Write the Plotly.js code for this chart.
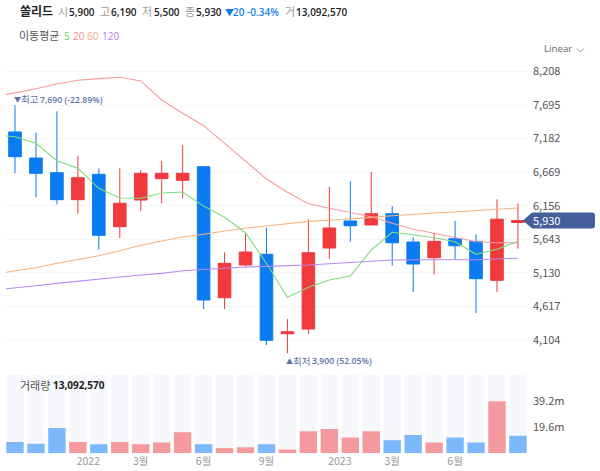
<!DOCTYPE html>
<html><head><meta charset="utf-8">
<script src="https://cdn.plot.ly/plotly-3.0.1.min.js"></script>
<style>html,body{margin:0;padding:0;background:#fff}#c{width:600px;height:471px}</style></head>
<body><div id="c"></div>
<script>
const idx=[0,1,2,3,4,5,6,7,8,9,10,11,12,13,14,15,16,17,18,19,20,21,22,23,24];
const open_=[7283,6885,6660,6248,6636,5835,6243,6569,6544,6752,4749,5249,5413,4199,4271,5509,5922,5861,6034,5601,5361,5651,5611,5015,5900];
const high=[7690,7272,7599,6920,6728,6728,6702,6839,7079,6752,5443,5734,5820,4423,5948,6446,6533,6671,6151,5673,5743,5922,5718,6254,6190];
const low=[6651,6284,6177,6033,5483,5662,6075,6193,6269,4576,4576,5223,4026,3900,4194,5345,5605,5861,5239,4836,5101,5336,4515,4836,5500];
const close_=[6905,6651,6248,6584,5703,6193,6651,6651,6651,4714,5275,5448,4098,4229,5437,5815,5850,6034,5590,5264,5611,5544,5040,5950,5930];
const maIdx=[-1,0,1,2,3,4,5,6,7,8,9,10,11,12,13,14,15,16,17,18,19,20,21,22,23,24];
const ma5=[7237,7211,7110,6844,6728,6422,6274,6269,6350,6365,6151,5979,5743,5275,4755,4908,5020,5081,5479,5749,5712,5667,5605,5413,5489,5611];
const ma20=[7818,7879,7945,8017,8073,8098,8119,8063,7772,7569,7379,7110,6839,6564,6361,6186,6116,6055,5988,5887,5795,5734,5667,5605,5590,5590];
const ma60=[5112,5157,5208,5275,5336,5391,5468,5550,5616,5677,5719,5765,5815,5845,5876,5917,5933,5952,5978,6003,6029,6044,6060,6075,6101,6121];
const ma120=[4867,4897,4933,4969,5005,5031,5066,5096,5122,5162,5183,5199,5219,5229,5234,5249,5269,5290,5315,5326,5330,5326,5330,5330,5337,5352];
const volume=[8.4,7.2,18.8,8.4,6.7,8.4,6.7,8,15.6,6.7,3.9,4.5,6.7,2.8,16.4,18.1,11.7,16.4,9.7,13.6,8,11.7,8,38.7,13.09];
const volumeUp=[0,0,0,1,0,1,1,1,1,0,1,1,0,1,1,1,1,1,0,0,1,0,0,1,0];
const volumeBand=idx.map(()=>58.3);
const priceTicks=[8208,7695,7182,6669,6156,5643,5130,4617,4104];
const volTicks=[19.6,39.2];
const volTickLabels=['19.6m','39.2m'];
const xTicks=[3.5,6,9,12,15.5,18,21];
const xTickLabels=['2022','3월','6월','9월','2023','3월','6월'];

const BLUE='#0a7bf0',RED='#f03a3e',KR='"Open Sans","Noto Sans CJK KR",sans-serif',CJK='"Noto Sans CJK KR","Noto Sans",sans-serif';
const ln=(y,c)=>({type:'scatter',mode:'lines',x:maIdx,y:y,xaxis:'x',yaxis:'y',line:{color:c,width:1.1},hoverinfo:'skip'});
const traces=[
 {type:'bar',x:idx,y:volumeBand,yaxis:'y2',xaxis:'x',width:0.81,marker:{color:'#f6f7fb',line:{width:0}},hoverinfo:'skip'},
 {type:'bar',x:idx,y:volume,yaxis:'y2',xaxis:'x',width:0.83,marker:{color:volumeUp.map(u=>u?'#f4999d':'#7db8fa'),line:{width:0}},hoverinfo:'skip'},
 {type:'candlestick',x:idx,open:open_,high:high,low:low,close:close_,xaxis:'x',yaxis:'y',whiskerwidth:0,
  increasing:{line:{color:RED,width:1},fillcolor:RED},decreasing:{line:{color:BLUE,width:1},fillcolor:BLUE},hoverinfo:'skip'},
 ln(ma120,'#b98af5'),ln(ma60,'#f8b27c'),ln(ma20,'#f79a9c'),ln(ma5,'#7fdc7f')
];
const note=(t,px,py,o={})=>({text:t,xref:'paper',yref:'paper',x:px/600,y:1-py/471,xanchor:o.anchor||'left',yanchor:'middle',showarrow:false,
  font:{family:o.family||KR,size:o.size||11,color:o.color||'#222',weight:o.weight||400},borderpad:0});
const num={weight:600,size:10};
const annotations=[
 note('쏠리드',19,12,{size:12,weight:700}),
 note('시',57,12,{color:'#999'}),note('5,900',68,12,num),
 note('고',99,12,{color:'#999'}),note('6,190',110,12,num),
 note('저',141,12,{color:'#999'}),note('5,500',153,12,num),
 note('종',184,12,{color:'#999'}),note('5,930',195,12,num),
 note('▼',224,13,{color:BLUE,size:9}),note('20 -0.34%',232,12,{color:'#1a80f0',weight:600,size:10}),
 note('거',284,12,{color:'#999'}),note('13,092,570',295,12,num),
 note('이동평균',18,36,{color:'#555',size:11}),
 note('5',63,36,{color:'#66d666',size:10}),note('20',72,36,{color:'#f7888c',size:10}),note('60',86,36,{color:'#f8a874',size:10}),note('120',101,36,{color:'#b080f0',size:10}),
 note('Linear',543,49,{color:'#666',size:9.7}),
 note('▼',13,100,{color:'#5d72a8',size:7}),note('최고',20,100,{color:'#5d72a8',size:9.5}),note('7,690 (-22.89%)',39,100,{color:'#5d72a8',size:8.7,weight:600}),
 note('▲',285,361,{color:'#5d72a8',size:7}),note('최저',292,361,{color:'#5d72a8',size:9.5}),note('3,900 (52.05%)',311,361,{color:'#5d72a8',size:8.7,weight:600}),
 note('거래량',19,385,{color:'#555',size:11}),note('13,092,570',52,385,{size:10,weight:700}),
 {text:'5,930',xref:'paper',yref:'y',x:531/600,y:5930,xanchor:'left',yanchor:'middle',showarrow:false,font:{family:CJK,size:11,color:'#fff'}}
];
const axisFont=c=>({family:CJK,size:11,color:c});
const layout={width:600,height:471,margin:{l:0,r:0,t:0,b:0},paper_bgcolor:'#fff',plot_bgcolor:'#fff',showlegend:false,hovermode:false,
 barmode:'overlay',boxgap:0.2,boxgroupgap:0.25,
 xaxis:{domain:[6/600,528/600],range:[-0.43,24.48],rangeslider:{visible:false},anchor:'y2',tickmode:'array',tickvals:xTicks,ticktext:xTickLabels,
  showgrid:false,zeroline:false,showline:false,ticks:'',tickfont:{family:CJK,size:10.5,color:'#999'}},
 yaxis:{domain:[1-360/471,1-65/471],range:[3797,8307],side:'right',anchor:'x',tickmode:'array',tickvals:priceTicks,tickformat:',d',ticklabelstandoff:4,
  gridcolor:'#f5f5f5',gridwidth:1,zeroline:false,showline:false,ticks:'',tickfont:axisFont('#555')},
 yaxis2:{domain:[1-453.3/471,1-375/471],range:[0,58.3],side:'right',anchor:'x',tickmode:'array',tickvals:volTicks,ticktext:volTickLabels,ticklabelstandoff:4,
  showgrid:false,zeroline:false,showline:false,ticks:'',tickfont:axisFont('#555')},
 shapes:[
  {type:'path',xref:'paper',yref:'y',xsizemode:'pixel',ysizemode:'pixel',xanchor:523/600,yanchor:5930,layer:'above',fillcolor:'#465f9b',line:{width:0},
   path:'M 0 0 L 9 8 L 69 8 Q 72 8 72 5 L 72 -5 Q 72 -8 69 -8 L 9 -8 Z'},
  {type:'path',xref:'paper',yref:'paper',layer:'above',line:{color:'#777',width:0.8},
   path:`M ${577/600} ${1-48.5/471} L ${580.5/600} ${1-52/471} L ${584/600} ${1-48.5/471}`}
 ],
 annotations:annotations};
Plotly.newPlot('c',traces,layout,{displayModeBar:false,staticPlot:true});
</script></body></html>
